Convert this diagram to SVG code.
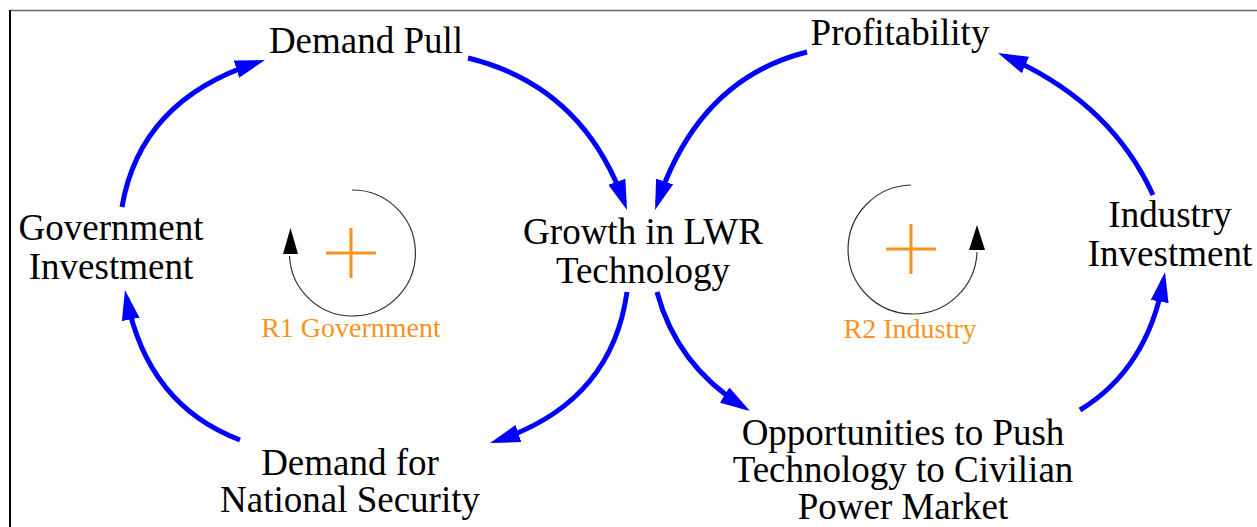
<svg xmlns="http://www.w3.org/2000/svg" width="1257" height="527" viewBox="0 0 1257 527">
  <style>
    .node text { font-size: 37px; fill: #000; text-anchor: middle; }
    .link { fill: none; stroke: #0000FF; stroke-width: 5; marker-end: url(#arrow); }
    .loop-arc { fill: none; stroke: #333; stroke-width: 1.2; }
    .loop-head { fill: #000; }
    .plus { stroke: #F7931E; stroke-width: 3; }
    .loop-label { font-size: 28px; fill: #F7931E; text-anchor: middle; }
  </style>
  <defs>
    <marker id="arrow" markerUnits="userSpaceOnUse" viewBox="0 0 30 18" markerWidth="30" markerHeight="18" refX="22" refY="9" orient="auto">
      <path d="M0,0 L30,9 L0,18 Z" fill="#0000FF"/>
    </marker>
  </defs>

  <rect width="1257" height="527" fill="#fff"/>
  <!-- frame edges -->
  <line x1="10" y1="10.5" x2="1257" y2="10.5" stroke="#666" stroke-width="1.5"/>
  <line x1="10" y1="10" x2="10" y2="527" stroke="#000" stroke-width="2"/>

  <!-- causal links -->
  <g id="connectors">
    <path class="link" d="M122,207 Q140,100 257.4,62.4"/>
    <path class="link" d="M468,58 Q582.5,86 624.3,202.5"/>
    <path class="link" d="M807,52 Q699,79 657.6,202.4"/>
    <path class="link" d="M1153,195 Q1110.5,102 1005.3,56.2"/>
    <path class="link" d="M627,292 Q611.5,402.5 497.6,440.5"/>
    <path class="link" d="M657,292 Q676.5,365 743.2,406.8"/>
    <path class="link" d="M1080,410 Q1147.5,369 1163.6,279.9"/>
    <path class="link" d="M240,440 Q147.5,405 126.5,297.8"/>
  </g>

  <g font-family="'Liberation Serif', 'Times New Roman', Times, serif">
    <g id="demand-pull" class="node">
      <text x="366" y="53">Demand Pull</text>
    </g>
    <g id="profitability" class="node">
      <text x="900" y="45">Profitability</text>
    </g>
    <g id="government-investment" class="node">
      <text x="111" y="240">Government</text>
      <text x="111" y="279">Investment</text>
    </g>
    <g id="growth-lwr" class="node">
      <text x="643" y="244">Growth in LWR</text>
      <text x="643" y="283">Technology</text>
    </g>
    <g id="industry-investment" class="node">
      <text x="1170" y="227">Industry</text>
      <text x="1170" y="266">Investment</text>
    </g>
    <g id="demand-national-security" class="node">
      <text x="350" y="475">Demand for</text>
      <text x="350" y="512">National Security</text>
    </g>
    <g id="opportunities" class="node">
      <text x="903" y="445">Opportunities to Push</text>
      <text x="903" y="482">Technology to Civilian</text>
      <text x="903" y="519">Power Market</text>
    </g>

    <!-- reinforcing loop R1 -->
    <g id="loop-r1">
      <path class="loop-arc" d="M352,190 A63,63 0 1 1 289.5,256"/>
      <polygon class="loop-head" points="290.5,228 283,254 298,254"/>
      <line class="plus" x1="326" y1="253" x2="376" y2="253"/>
      <line class="plus" x1="351" y1="228" x2="351" y2="278"/>
      <text class="loop-label" x="351" y="337">R1 Government</text>
    </g>

    <!-- reinforcing loop R2 -->
    <g id="loop-r2">
      <path class="loop-arc" d="M911,185 A64.5,64.5 0 1 0 977,252"/>
      <polygon class="loop-head" points="977,225 969,250 985,250"/>
      <line class="plus" x1="886" y1="249" x2="936" y2="249"/>
      <line class="plus" x1="911" y1="224" x2="911" y2="274"/>
      <text class="loop-label" x="910" y="338">R2 Industry</text>
    </g>
  </g>
</svg>
